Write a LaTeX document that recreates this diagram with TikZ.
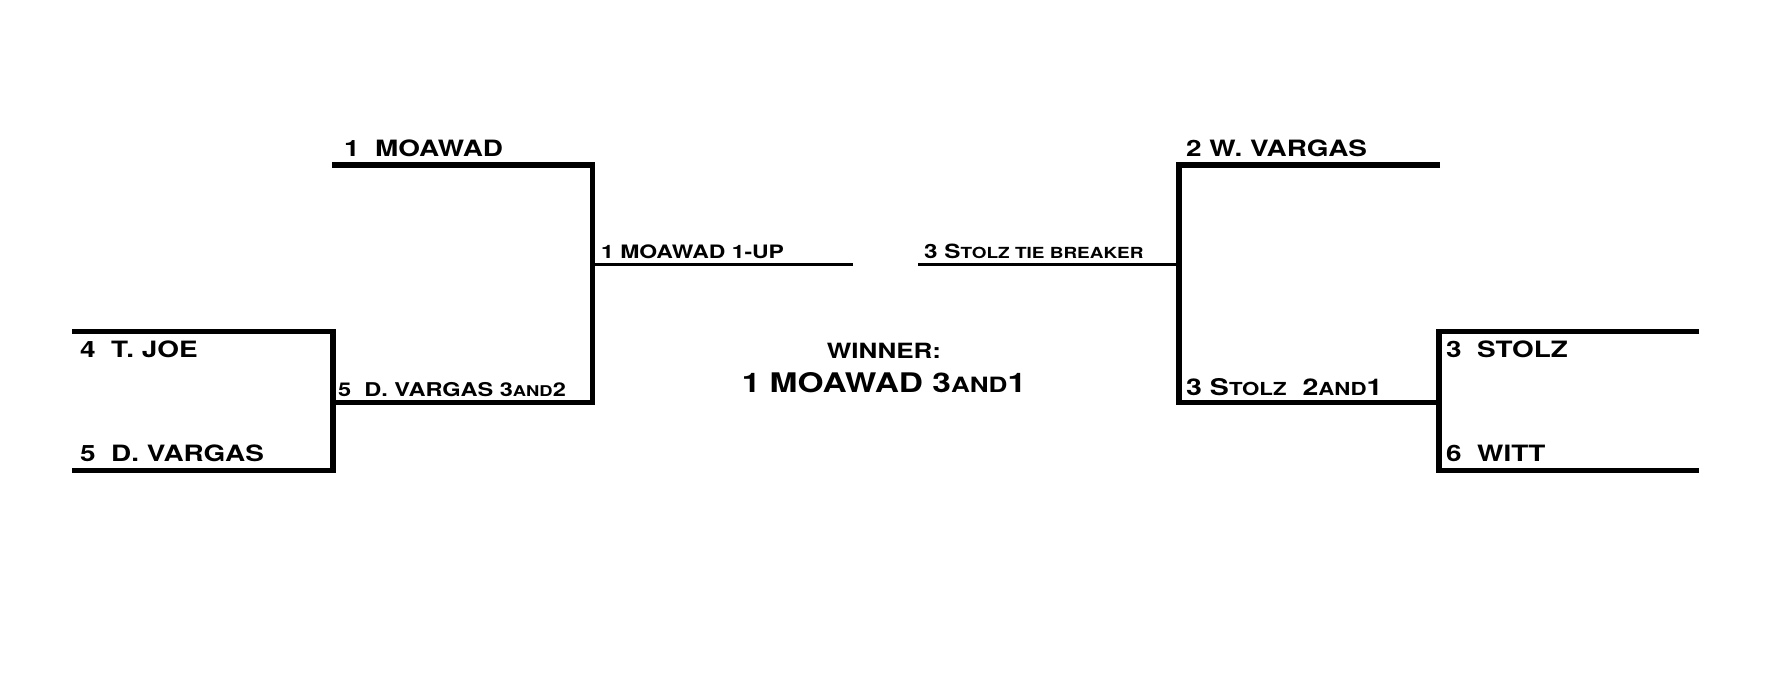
\documentclass[tikz,border=0pt]{standalone}
\usepackage{fontspec}
\newfontfamily\cpf[FakeStretch=1.24]{TeX Gyre Heros}
\makeatletter
\newcommand\lowsc[1]{{\fontsize{\strip@pt\dimexpr0.78\dimexpr\f@size pt\relax\relax}{1}\selectfont\MakeUppercase{#1}}}
\makeatother
\newcommand\fsz[1]{\fontsize{#1}{#1}\selectfont}
\tikzset{
  thickln/.style={line width=5.3pt, line join=miter, line cap=butt, black},
  thinln/.style={line width=3pt, line cap=butt, black},
  lblone/.style={anchor=base west, inner sep=0pt, font={\cpf\bfseries\fsz{22.5}}},
  lbltwo/.style={anchor=base west, inner sep=0pt, font={\cpf\bfseries\fsz{18.5}}},
  winlbl/.style={anchor=base, inner sep=0pt, font={\cpf\bfseries\fsz{21}}},
  winbig/.style={anchor=base, inner sep=0pt, font={\cpf\bfseries\fsz{27}}}
}
\begin{document}
\begin{tikzpicture}[x=1pt,y=-1pt]
\useasboundingbox[fill=white] (0,0) rectangle (1782,694);
% left coordinates
\coordinate (ltA) at (332,165);
\coordinate (ltC) at (592.5,165);
\coordinate (lsB) at (592.5,402.6);
\coordinate (lbV) at (333,402.6);
\coordinate (lbT) at (72,331.3);
\coordinate (lbTc) at (333,331.3);
\coordinate (lbBc) at (333,470.5);
\coordinate (lbB) at (72,470.5);
\coordinate (lmA) at (592.5,264);
\coordinate (lmB) at (853,264);
% right coordinates
\coordinate (rtA) at (1440,165);
\coordinate (rtC) at (1179,165);
\coordinate (rsB) at (1179,402.6);
\coordinate (rbV) at (1439,402.6);
\coordinate (rbT) at (1699,331.3);
\coordinate (rbTc) at (1439,331.3);
\coordinate (rbBc) at (1439,470.5);
\coordinate (rbB) at (1699,470.5);
\coordinate (rmA) at (1179,264);
\coordinate (rmB) at (918,264);
% left lines
\draw[thickln] (ltA) -- (ltC) -- (lsB) -- (lbV);
\draw[thickln] (lbT) -- (lbTc) -- (lbBc) -- (lbB);
\draw[thinln] (lmA) -- (lmB);
% right lines
\draw[thickln] (rtA) -- (rtC) -- (rsB) -- (rbV);
\draw[thickln] (rbT) -- (rbTc) -- (rbBc) -- (rbB);
\draw[thinln] (rmA) -- (rmB);
% labels left
\node[lblone] (n1) at (344,156) {1\ \ MOAWAD};
\node[lblone] (n4) at (80,357) {4\ \ T. JOE};
\node[lblone] (n5) at (80,461) {5\ \ D. VARGAS};
\node[lbltwo, font={\cpf\bfseries\fsz{19}}] (s5) at (338,396) {5\ \ D. VARGAS 3\lowsc{and}2};
\node[lbltwo] (f1) at (601,258) {1 MOAWAD 1-UP};
% labels right
\node[lblone] (n2) at (1186,156) {2 W. VARGAS};
\node[lblone] (n3) at (1446,357) {3\ \ STOLZ};
\node[lblone] (n6) at (1446,461) {6\ \ WITT};
\node[lbltwo, font={\cpf\bfseries\fsz{23}}] (s3) at (1186,395) {3 S\lowsc{tolz}\ \ 2\lowsc{and}1};
\node[lbltwo, font={\cpf\bfseries\fsz{19.6}}] (f3) at (924,258) {3 S\lowsc{tolz tie breaker}};
% winner
\node[winlbl] (wl) at (884,358) {WINNER:};
\node[winbig] (wn) at (884,392) {1 MOAWAD 3\lowsc{and}1};
\end{tikzpicture}
\end{document}
